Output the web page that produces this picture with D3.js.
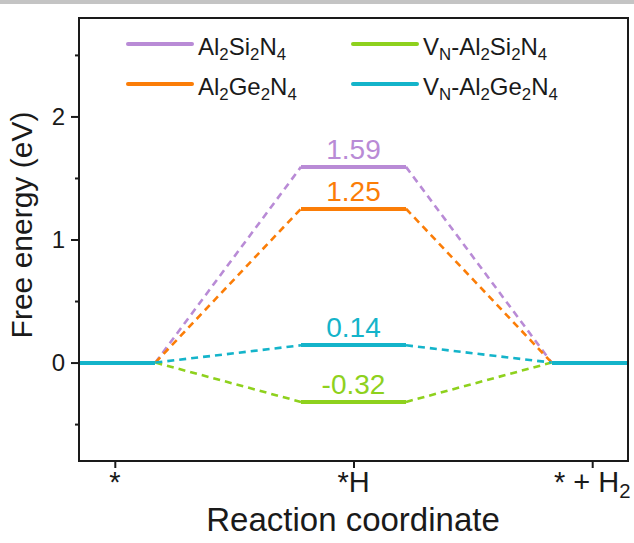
<!DOCTYPE html>
<html>
<head>
<meta charset="utf-8">
<script src="https://cdn.jsdelivr.net/npm/d3@7"></script>
<style>
  body { margin: 0; background: #fff; }
  svg { display: block; font-family: "Liberation Sans", Arial, sans-serif; }
</style>
</head>
<body>
<svg id="chart" width="634" height="543"></svg>
<script>
// Reaction steps along the x axis ("_x" marks a subscript)
const steps = ["*", "*H", "* + H_2"];

// Series names, colours and free energies (eV) at each step
const seriesNames = ["Al_2Si_2N_4", "Al_2Ge_2N_4", "V_N-Al_2Si_2N_4", "V_N-Al_2Ge_2N_4"];
const seriesColors = ["#b98bd6", "#fb7d07", "#8ed11d", "#14b4ca"];
const energyAl2Si2N4 = [0, 1.59, 0];
const energyAl2Ge2N4 = [0, 1.25, 0];
const energyVNAl2Si2N4 = [0, -0.32, 0];
const energyVNAl2Ge2N4 = [0, 0.14, 0];

// Axis ticks
const yMajorTicks = [0, 1, 2];
const yMinorTicks = [-0.5, 0.5, 1.5, 2.5];

const seriesEnergies = [energyAl2Si2N4, energyAl2Ge2N4, energyVNAl2Si2N4, energyVNAl2Ge2N4];

const svg = d3.select("#chart");
const W = 634, H = 543;
const plot = { left: 79, right: 628, top: 18, bottom: 461 };

// thin grey strip along the top edge
svg.append("rect").attr("x", 0).attr("y", 0).attr("width", W).attr("height", 4).attr("fill", "#c4c4c4");

const x = d3.scaleLinear().domain([-0.15, 2.15]).range([plot.left, plot.right]);
const y = d3.scaleLinear().domain([-0.8, 2.8]).range([plot.bottom, plot.top]);

// half-widths of the energy-level bars (in step units)
const edgeHalf = 0.17, midHalf = 0.22;
const last = steps.length - 1;
function levelSpan(i) {
  const x0 = i === 0 ? x.domain()[0] : i - (i === last ? edgeHalf : midHalf);
  const x1 = i === last ? x.domain()[1] : i + (i === 0 ? edgeHalf : midHalf);
  return [x0, x1];
}

// rich text helper: "_c" renders c as a subscript
function richText(sel, str, size) {
  const parts = str.split(/(_\w)/).filter(s => s.length);
  let sub = false;
  parts.forEach(p => {
    if (p.startsWith("_")) {
      sel.append("tspan").attr("font-size", size * 0.7).attr("dy", size * 0.22).text(p.slice(1));
      sub = true;
    } else {
      const t = sel.append("tspan").text(p);
      if (sub) { t.attr("dy", -size * 0.22); sub = false; }
    }
  });
}

const g = svg.append("g");

// Dashed connectors between consecutive levels
seriesEnergies.forEach((vals, si) => {
  const col = seriesColors[si];
  for (let i = 0; i < last; i++) {
    const a = levelSpan(i)[1], b = levelSpan(i + 1)[0];
    g.append("line")
      .attr("x1", x(a)).attr("y1", y(vals[i]))
      .attr("x2", x(b)).attr("y2", y(vals[i + 1]))
      .attr("stroke", col).attr("stroke-width", 2.6)
      .attr("stroke-dasharray", "7,5");
  }
});
// Level bars and value labels
seriesEnergies.forEach((vals, si) => {
  const col = seriesColors[si];
  vals.forEach((v, i) => {
    const [a, b] = levelSpan(i);
    g.append("line")
      .attr("x1", x(a)).attr("y1", Math.round(y(v)))
      .attr("x2", x(b)).attr("y2", Math.round(y(v)))
      .attr("stroke", col).attr("stroke-width", 4)
      .attr("shape-rendering", "crispEdges");
  });
  vals.forEach((v, i) => {
    if (i === 0 || i === last) return;
    g.append("text")
      .attr("x", x(i)).attr("y", y(v) - 8)
      .attr("text-anchor", "middle")
      .attr("font-size", 28)
      .attr("fill", col)
      .text(v.toFixed(2));
  });
});

// Frame
svg.append("rect")
  .attr("x", plot.left).attr("y", plot.top)
  .attr("width", plot.right - plot.left).attr("height", plot.bottom - plot.top)
  .attr("fill", "none").attr("stroke", "#1a1a1a").attr("stroke-width", 2);

// Y axis
const yAxis = svg.append("g").attr("transform", `translate(${plot.left},0)`)
  .call(d3.axisLeft(y).tickValues(yMajorTicks).tickSize(8).tickPadding(6).tickFormat(d3.format("d")));
yAxis.select(".domain").remove();
yAxis.selectAll(".tick line").attr("stroke", "#1a1a1a").attr("stroke-width", 2);
yAxis.selectAll(".tick text").attr("font-size", 24).attr("fill", "#1a1a1a")
  .attr("font-family", "Liberation Sans, Arial, sans-serif");

const yMinor = svg.append("g").attr("transform", `translate(${plot.left},0)`)
  .call(d3.axisLeft(y).tickValues(yMinorTicks).tickSize(4).tickFormat(""));
yMinor.select(".domain").remove();
yMinor.selectAll(".tick line").attr("stroke", "#1a1a1a").attr("stroke-width", 2);

// X axis
const xAxis = svg.append("g").attr("transform", `translate(0,${plot.bottom})`)
  .call(d3.axisBottom(x).tickValues(d3.range(steps.length)).tickSize(7).tickFormat(""));
xAxis.select(".domain").remove();
xAxis.selectAll(".tick line").attr("stroke", "#1a1a1a").attr("stroke-width", 2);

steps.forEach((s, i) => {
  const t = svg.append("text")
    .attr("x", x(i)).attr("y", 492)
    .attr("text-anchor", "middle")
    .attr("font-size", 29).attr("fill", "#1a1a1a");
  richText(t, s, 29);
});

// Axis titles
svg.append("text")
  .attr("x", 353).attr("y", 531)
  .attr("text-anchor", "middle")
  .attr("font-size", 33).attr("fill", "#1a1a1a")
  .text("Reaction coordinate");

svg.append("text")
  .attr("transform", `translate(32,225) rotate(-90)`)
  .attr("text-anchor", "middle")
  .attr("font-size", 30).attr("fill", "#1a1a1a")
  .text("Free energy (eV)");

// Legend: two columns, two rows
const legendCols = [128, 353];
const legendRows = [44, 84];
seriesNames.forEach((name, si) => {
  const cx = legendCols[Math.floor(si / 2)];
  const cy = legendRows[si % 2];
  svg.append("line")
    .attr("x1", cx).attr("x2", cx + 64)
    .attr("y1", cy).attr("y2", cy)
    .attr("stroke", seriesColors[si]).attr("stroke-width", 4)
    .attr("stroke-linecap", "round");
  const t = svg.append("text")
    .attr("x", cx + 70).attr("y", cy + 11)
    .attr("font-size", 24).attr("fill", "#1a1a1a");
  richText(t, name, 24);
});
</script>
</body>
</html>
